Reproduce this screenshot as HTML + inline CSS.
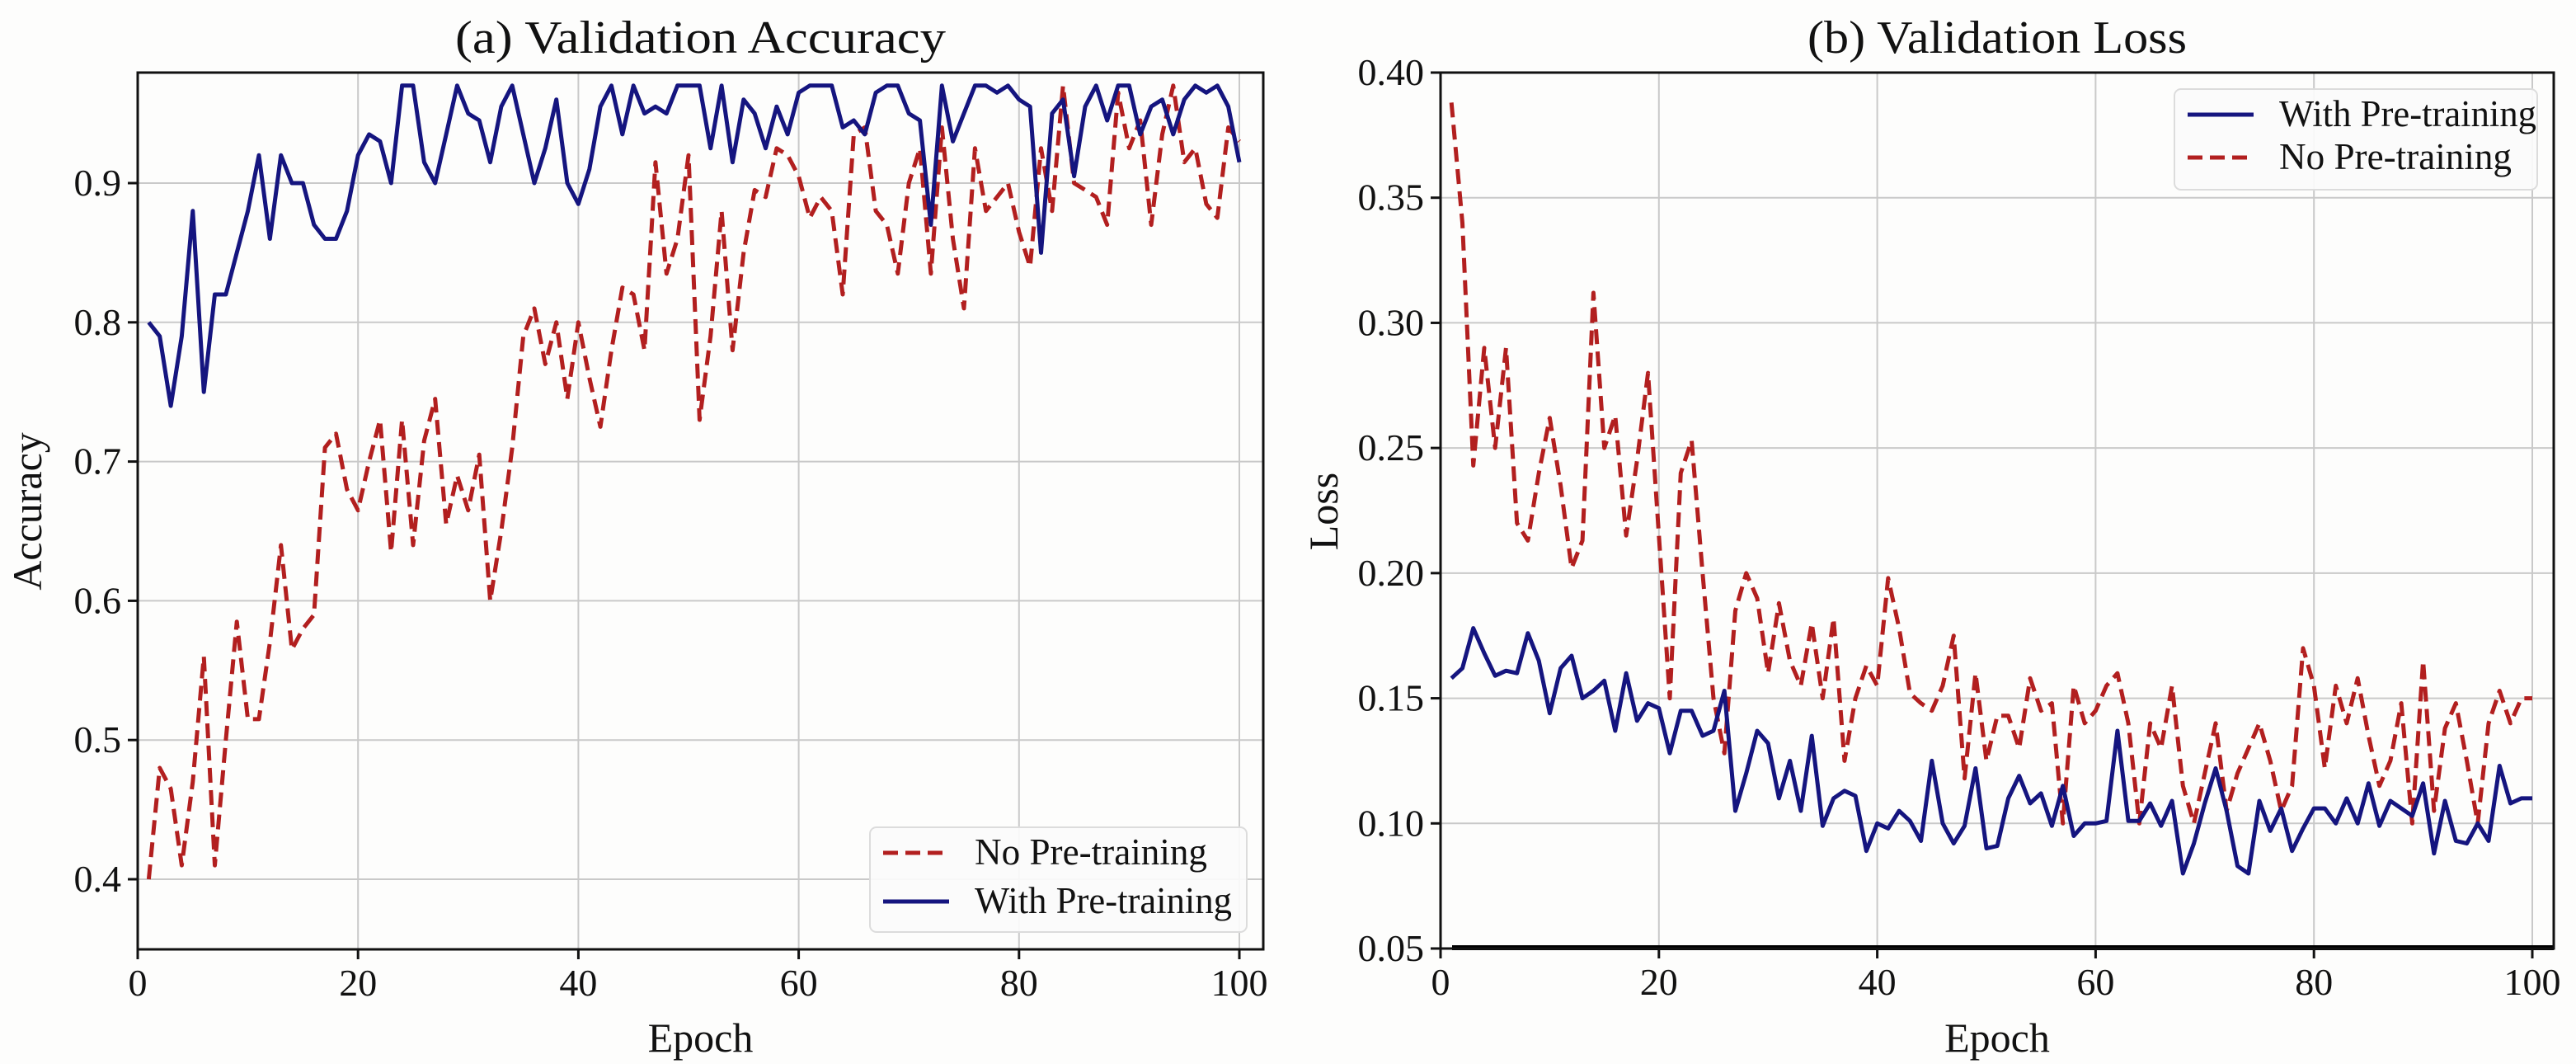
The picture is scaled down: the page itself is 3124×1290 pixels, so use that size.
<!DOCTYPE html>
<html><head><meta charset="utf-8">
<style>
html,body{margin:0;padding:0;background:#fdfdfc;}
svg{display:block;font-family:"Liberation Serif",serif;}
</style></head>
<body>
<svg id="fig" width="3124" height="1290" viewBox="0 0 3124 1290" xmlns="http://www.w3.org/2000/svg"></svg>
<script>
const epochs = Array.from({length:100},(_,i)=>i+1);
const accWith = [0.80,0.79,0.74,0.79,0.88,0.75,0.82,0.82,0.85,0.88,0.92,0.86,0.92,0.90,0.90,0.87,0.86,0.86,0.88,0.92,0.935,0.93,0.90,0.97,0.97,0.915,0.90,0.935,0.97,0.95,0.945,0.915,0.955,0.97,0.935,0.90,0.925,0.96,0.90,0.885,0.91,0.955,0.97,0.935,0.97,0.95,0.955,0.95,0.97,0.97,0.97,0.925,0.97,0.915,0.96,0.95,0.925,0.955,0.935,0.965,0.97,0.97,0.97,0.94,0.945,0.935,0.965,0.97,0.97,0.95,0.945,0.87,0.97,0.93,0.95,0.97,0.97,0.965,0.97,0.96,0.955,0.85,0.95,0.96,0.905,0.955,0.97,0.945,0.97,0.97,0.935,0.955,0.96,0.935,0.96,0.97,0.965,0.97,0.955,0.915];
const accNo = [0.40,0.48,0.465,0.41,0.47,0.56,0.41,0.50,0.585,0.515,0.515,0.57,0.64,0.565,0.58,0.59,0.71,0.72,0.68,0.665,0.70,0.73,0.635,0.73,0.64,0.715,0.745,0.655,0.69,0.665,0.705,0.60,0.65,0.71,0.79,0.81,0.77,0.80,0.745,0.80,0.76,0.725,0.78,0.825,0.82,0.78,0.915,0.835,0.86,0.92,0.73,0.79,0.88,0.78,0.85,0.895,0.89,0.925,0.92,0.905,0.875,0.89,0.88,0.82,0.935,0.94,0.88,0.87,0.835,0.90,0.925,0.835,0.94,0.86,0.81,0.925,0.88,0.89,0.90,0.865,0.84,0.925,0.88,0.97,0.90,0.895,0.89,0.87,0.965,0.925,0.945,0.87,0.935,0.97,0.915,0.925,0.885,0.875,0.94,0.93];
const lossWith = [0.158,0.162,0.178,0.168,0.159,0.161,0.160,0.176,0.165,0.144,0.162,0.167,0.150,0.153,0.157,0.137,0.160,0.141,0.148,0.146,0.128,0.145,0.145,0.135,0.137,0.153,0.105,0.120,0.137,0.132,0.110,0.125,0.105,0.135,0.099,0.110,0.113,0.111,0.089,0.100,0.098,0.105,0.101,0.093,0.125,0.100,0.092,0.099,0.122,0.090,0.091,0.110,0.119,0.108,0.112,0.099,0.115,0.095,0.100,0.100,0.101,0.137,0.101,0.101,0.108,0.099,0.109,0.080,0.092,0.108,0.122,0.105,0.083,0.080,0.109,0.097,0.106,0.089,0.098,0.106,0.106,0.100,0.110,0.100,0.116,0.099,0.109,0.106,0.103,0.116,0.088,0.109,0.093,0.092,0.100,0.093,0.123,0.108,0.110,0.110];
const lossNo = [0.388,0.340,0.243,0.290,0.250,0.290,0.220,0.213,0.240,0.262,0.235,0.202,0.213,0.312,0.250,0.263,0.215,0.245,0.280,0.215,0.150,0.240,0.253,0.200,0.150,0.128,0.185,0.200,0.190,0.160,0.188,0.165,0.155,0.180,0.150,0.182,0.125,0.150,0.163,0.155,0.198,0.178,0.152,0.148,0.145,0.155,0.175,0.118,0.160,0.125,0.143,0.143,0.130,0.158,0.145,0.148,0.100,0.155,0.140,0.145,0.155,0.160,0.140,0.100,0.140,0.130,0.155,0.115,0.100,0.120,0.140,0.105,0.120,0.130,0.140,0.125,0.105,0.115,0.170,0.155,0.122,0.155,0.140,0.158,0.135,0.115,0.125,0.148,0.100,0.165,0.105,0.138,0.148,0.125,0.100,0.140,0.153,0.140,0.150,0.150];
const xTicks = [0,20,40,60,80,100];
const accTicks = [0.4,0.5,0.6,0.7,0.8,0.9];
const accTickLabels = ["0.4","0.5","0.6","0.7","0.8","0.9"];
const lossTicks = [0.05,0.10,0.15,0.20,0.25,0.30,0.35,0.40];
const lossTickLabels = ["0.05","0.10","0.15","0.20","0.25","0.30","0.35","0.40"];

const NS="http://www.w3.org/2000/svg";
const svg=document.getElementById('fig');
function mk(tag,attrs,parent){const e=document.createElementNS(NS,tag);for(const k in attrs)e.setAttribute(k,attrs[k]);(parent||svg).appendChild(e);return e;}

function panel(cfg){
  const g=mk('g',{});
  
  
  const sx=v=>cfg.x0px+(v-0)*(cfg.x100px-cfg.x0px)/100;
  const sy=v=>cfg.yA+(v-cfg.vA)*(cfg.yB-cfg.yA)/(cfg.vB-cfg.vA);
  // grid
  xTicks.forEach(t=>{const l=mk('line',{x1:sx(t),x2:sx(t),y1:cfg.top,y2:cfg.bottom,stroke:'#c9c9c9','stroke-width':2},g);
    });
  cfg.yTicks.forEach(t=>{const l=mk('line',{x1:cfg.left,x2:cfg.right,y1:sy(t),y2:sy(t),stroke:'#c9c9c9','stroke-width':2},g);
    });
  // series
  cfg.series.forEach(s=>{
    const pts=epochs.map((e,i)=>sx(e).toFixed(1)+','+sy(s.data[i]).toFixed(1)).join(' ');
    const p=mk('polyline',{points:pts,fill:'none',stroke:s.color,'stroke-width':5,'stroke-linejoin':'round','stroke-dasharray':s.dash||'none'},g);
    
    
  });
  if(cfg.baseLine){const b=mk('line',{x1:cfg.left+14,x2:cfg.right,y1:cfg.bottom-1,y2:cfg.bottom-1,stroke:'#000','stroke-width':6},g);
    }
  // frame
  const r=mk('rect',{x:cfg.left,y:cfg.top,width:cfg.right-cfg.left,height:cfg.bottom-cfg.top,fill:'none',stroke:'#111','stroke-width':3},g);
  
  // ticks
  xTicks.forEach(t=>{mk('line',{x1:sx(t),x2:sx(t),y1:cfg.bottom,y2:cfg.bottom+12,stroke:'#111','stroke-width':3},g);
    const tx=mk('text',{x:sx(t),y:cfg.bottom+56,'font-size':46,'text-anchor':'middle',fill:'#111'},g);tx.textContent=t;
    });
  cfg.yTicks.forEach((t,i)=>{mk('line',{x1:cfg.left-12,x2:cfg.left,y1:sy(t),y2:sy(t),stroke:'#111','stroke-width':3},g);
    const tx=mk('text',{x:cfg.left-20,y:sy(t)+15,'font-size':46,'text-anchor':'end',fill:'#111'},g);tx.textContent=cfg.yLabels[i];
    });
  const ti=mk('text',{x:(cfg.left+cfg.right)/2,y:64,'font-size':56,'text-anchor':'middle',fill:'#111',textLength:cfg.titleLen,lengthAdjust:'spacingAndGlyphs'},g);
  ti.textContent=cfg.title;
  const xl=mk('text',{x:(cfg.left+cfg.right)/2,y:1275,'font-size':50,'text-anchor':'middle',fill:'#111'},g);
  xl.textContent='Epoch';
  const yl=mk('text',{x:0,y:0,'font-size':50,'text-anchor':'middle',fill:'#111',transform:`translate(${cfg.yLabelX},${cfg.yLabelY}) rotate(-90)`},g);
  yl.textContent=cfg.yTitle;
  // legend
  const L=cfg.legend;
  const lg=mk('g',{},g);
  
  mk('rect',{x:L.x,y:L.y,width:L.w,height:L.h,rx:8,fill:'#fbfbfb','fill-opacity':0.92,stroke:'#dcdcdc','stroke-width':2},lg);
  L.items.forEach((it,i)=>{
    const by=L.rows[i];
    mk('line',{x1:L.x+16,x2:L.x+96,y1:by-14,y2:by-14,stroke:it.color,'stroke-width':5,'stroke-dasharray':it.dash||'none'},lg);
    const t=mk('text',{x:L.x+127,y:by,'font-size':45,fill:'#111',textLength:it.len,lengthAdjust:'spacingAndGlyphs'},lg);
    t.textContent=it.label;
  });
}
const RED='#b21f1f', BLUE='#15157f', DASH='18 9';
panel({name:'accuracy-chart',left:167,right:1532,top:88,bottom:1151,x0px:167,x100px:1503,
  vA:0.9,yA:222,vB:0.4,yB:1066,yTicks:accTicks,yLabels:accTickLabels,title:'(a) Validation Accuracy',titleLen:595,
  yTitle:'Accuracy',yLabelX:50,yLabelY:620,
  series:[{id:'no-pretraining-line',data:accNo,color:RED,dash:DASH},{id:'with-pretraining-line',data:accWith,color:BLUE}],
  legend:{x:1055,y:1003,w:457,h:127,rows:[1048,1107],items:[{label:'No Pre-training',color:RED,dash:'18 9',len:282},{label:'With Pre-training',color:BLUE,len:312}]}});
panel({name:'loss-chart',left:1747,right:3097,top:88,bottom:1150,x0px:1747,x100px:3071,
  vA:0.40,yA:88,vB:0.05,yB:1150,yTicks:lossTicks,yLabels:lossTickLabels,title:'(b) Validation Loss',titleLen:460,
  yTitle:'Loss',yLabelX:1622,yLabelY:620,baseLine:true,
  series:[{id:'no-pretraining-line',data:lossNo,color:RED,dash:DASH},{id:'with-pretraining-line',data:lossWith,color:BLUE}],
  legend:{x:2637,y:108,w:440,h:122,rows:[153,205],items:[{label:'With Pre-training',color:BLUE,len:312},{label:'No Pre-training',color:RED,dash:'18 9',len:282}]}});
</script>
</body></html>
